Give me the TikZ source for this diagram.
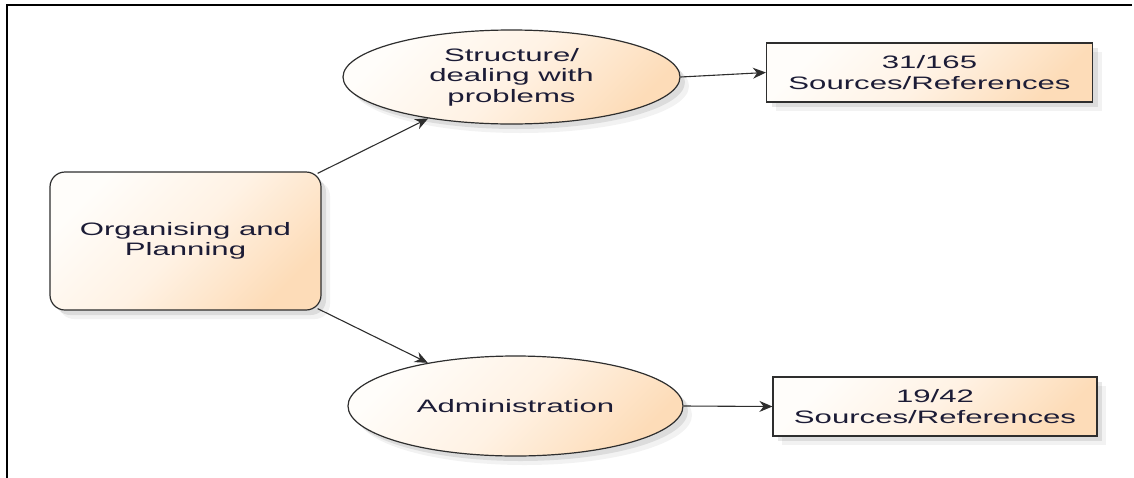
\documentclass[tikz,border=0pt]{standalone}
\usepackage{fontspec}
\setmainfont{Liberation Sans}[FakeStretch=1.73]
\usetikzlibrary{shapes.geometric,arrows.meta,shadows}

\definecolor{fillA}{HTML}{FFFDFA}
\definecolor{fillM}{HTML}{FFF2E4}
\definecolor{fillB}{HTML}{FDDCB8}
\definecolor{edge}{HTML}{2E2E2E}
\definecolor{ink}{HTML}{1C1C36}

\tikzset{
  softshadow/.style={
    drop shadow={shadow xshift=5pt,shadow yshift=-5pt,opacity=.09,fill=black},
    drop shadow={shadow xshift=9pt,shadow yshift=-9pt,opacity=.05,fill=black}},
  shapebase/.style={draw=edge,line width=1.2pt,softshadow,
    top color=fillA,bottom color=fillB,middle color=fillM,shading angle=45,
    text=ink,align=center,inner sep=0pt,
    font=\fontsize{18}{20.5}\selectfont},
  topicbox/.style={shapebase,rectangle,rounded corners=15pt,
    minimum width=271pt,minimum height=138pt},
  themeoval/.style={shapebase,ellipse},
  countbox/.style={shapebase,rectangle,minimum width=326pt,minimum height=59pt},
  link/.style={draw=edge,line width=1.1pt,-{Stealth[length=13pt,width=11pt]}}
}

\begin{document}
\begin{tikzpicture}[x=1pt,y=-1pt]
  \useasboundingbox (0,0) rectangle (1134,477);

  % open frame: top and left rules
  \draw[line width=2.5pt,line cap=rect] (1131,5) -- (7,5) -- (7,477);

  % nodes
  \node[topicbox] (org) at (185.5,241) {Organising and\\Planning};
  \node[themeoval,minimum width=337pt,minimum height=94pt] (struct) at (511.5,77)
    {Structure/\\dealing with\\problems};
  \node[themeoval,minimum width=335pt,minimum height=100pt] (admin) at (515.5,406)
    {Administration};
  \node[countbox] (src1) at (929.5,72.5) {31/165\\Sources/References};
  \node[countbox,minimum width=324pt] (src2) at (935,406.5) {19/42\\Sources/References};

  % connectors
  \draw[link] ([xshift=-4pt,yshift=-2pt]org.north east) -- (struct);
  \draw[link] ([xshift=-4pt,yshift=2pt]org.south east) -- (admin);
  \draw[link] (struct.east) -- (src1.west);
  \draw[link] (admin.east) -- (src2.west);
\end{tikzpicture}
\end{document}
